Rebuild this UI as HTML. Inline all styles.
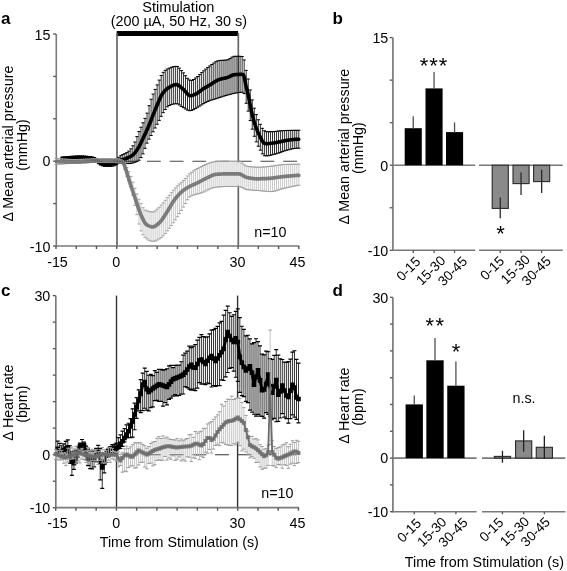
<!DOCTYPE html>
<html><head><meta charset="utf-8"><style>
html,body{margin:0;padding:0;background:#fff;}
svg{display:block;will-change:transform;}
text{font-family:"Liberation Sans", sans-serif;}
</style></head><body>
<svg width="567" height="571" viewBox="0 0 567 571">
<rect width="567" height="571" fill="#fff"/>
<text x="1.00" y="24.00" font-size="17" text-anchor="start" font-weight="bold" fill="#000" >a</text>
<text x="178.30" y="11.60" font-size="14.6" text-anchor="middle" font-weight="normal" fill="#000" >Stimulation</text>
<text x="178.80" y="25.80" font-size="14.4" text-anchor="middle" font-weight="normal" fill="#000" >(200 µA, 50 Hz, 30 s)</text>
<rect x="116.70" y="31" width="121.40" height="5" fill="#000"/>
<line x1="117.00" y1="33.00" x2="117.00" y2="246.00" stroke="#666" stroke-width="1.7" />
<line x1="238.30" y1="33.00" x2="238.30" y2="162.50" stroke="#666" stroke-width="1.7" />
<line x1="238.30" y1="185.50" x2="238.30" y2="246.00" stroke="#666" stroke-width="1.7" />
<line x1="56.30" y1="34.00" x2="56.30" y2="246.80" stroke="#7a7a7a" stroke-width="1.6" />
<line x1="53.10" y1="34.00" x2="56.00" y2="34.00" stroke="#555" stroke-width="1.3" />
<line x1="53.10" y1="76.40" x2="56.00" y2="76.40" stroke="#555" stroke-width="1.3" />
<line x1="53.10" y1="118.80" x2="56.00" y2="118.80" stroke="#555" stroke-width="1.3" />
<line x1="53.10" y1="161.20" x2="56.00" y2="161.20" stroke="#555" stroke-width="1.3" />
<line x1="53.10" y1="203.60" x2="56.00" y2="203.60" stroke="#555" stroke-width="1.3" />
<line x1="53.10" y1="246.00" x2="56.00" y2="246.00" stroke="#555" stroke-width="1.3" />
<line x1="55.50" y1="246.00" x2="299.30" y2="246.00" stroke="#7a7a7a" stroke-width="1.7" />
<line x1="56.00" y1="246.00" x2="56.00" y2="249.00" stroke="#555" stroke-width="1.4" />
<line x1="76.23" y1="246.00" x2="76.23" y2="249.00" stroke="#555" stroke-width="1.4" />
<line x1="96.47" y1="246.00" x2="96.47" y2="249.00" stroke="#555" stroke-width="1.4" />
<line x1="116.70" y1="246.00" x2="116.70" y2="249.00" stroke="#555" stroke-width="1.4" />
<line x1="136.93" y1="246.00" x2="136.93" y2="249.00" stroke="#555" stroke-width="1.4" />
<line x1="157.17" y1="246.00" x2="157.17" y2="249.00" stroke="#555" stroke-width="1.4" />
<line x1="177.40" y1="246.00" x2="177.40" y2="249.00" stroke="#555" stroke-width="1.4" />
<line x1="197.63" y1="246.00" x2="197.63" y2="249.00" stroke="#555" stroke-width="1.4" />
<line x1="217.87" y1="246.00" x2="217.87" y2="249.00" stroke="#555" stroke-width="1.4" />
<line x1="238.10" y1="246.00" x2="238.10" y2="249.00" stroke="#555" stroke-width="1.4" />
<line x1="258.33" y1="246.00" x2="258.33" y2="249.00" stroke="#555" stroke-width="1.4" />
<line x1="278.57" y1="246.00" x2="278.57" y2="249.00" stroke="#555" stroke-width="1.4" />
<line x1="298.80" y1="246.00" x2="298.80" y2="249.00" stroke="#555" stroke-width="1.4" />
<text x="50.50" y="39.90" font-size="14.3" text-anchor="end" font-weight="normal" fill="#000" >15</text>
<text x="50.50" y="166.40" font-size="14.3" text-anchor="end" font-weight="normal" fill="#000" >0</text>
<text x="50.50" y="252.20" font-size="14.3" text-anchor="end" font-weight="normal" fill="#000" >-10</text>
<text x="57.50" y="267.20" font-size="14.3" text-anchor="middle" font-weight="normal" fill="#000" >-15</text>
<text x="116.30" y="267.20" font-size="14.3" text-anchor="middle" font-weight="normal" fill="#000" >0</text>
<text x="237.50" y="267.20" font-size="14.3" text-anchor="middle" font-weight="normal" fill="#000" >30</text>
<text x="297.40" y="267.20" font-size="14.3" text-anchor="middle" font-weight="normal" fill="#000" >45</text>
<text x="254.30" y="237.40" font-size="14.3" text-anchor="start" font-weight="normal" fill="#000" >n=10</text>
<text transform="translate(12.7,143.5) rotate(-90)" font-size="14.3" text-anchor="middle">Δ Mean arterial pressure</text>
<text transform="translate(26.8,145) rotate(-90)" font-size="14.3" text-anchor="middle">(mmHg)</text>
<line x1="124.3" y1="161.20" x2="298.80" y2="161.20" stroke="#444" stroke-width="1.1" stroke-dasharray="13.8 8.9"/>
<path d="M62.07 157.19V159.41M64.09 156.96V159.56M66.12 156.75V159.69M68.14 156.55V159.77M70.16 156.39V159.80M72.19 156.23V159.78M74.21 156.06V159.72M76.23 155.92V159.66M78.26 155.83V159.62M80.28 155.80V159.60M82.30 155.86V159.61M84.33 155.99V159.64M86.35 156.18V159.68M88.37 156.41V159.74M90.40 156.65V159.82M92.42 156.96V160.18M94.44 157.43V160.80M96.47 158.48V161.92M98.49 160.28V163.75M100.51 161.36V165.03M102.54 161.90V165.89M104.56 162.19V166.38M106.58 162.18V166.40M108.61 162.09V166.40M110.63 161.93V166.38M112.65 161.44V166.14M114.68 160.65V165.68M116.70 159.21V164.48M118.72 157.31V163.50M120.75 155.70V163.51M122.77 154.58V163.54M124.79 153.66V163.57M126.82 152.62V163.59M128.84 151.14V163.59M130.86 148.85V163.39M132.89 145.82V162.94M134.91 141.99V162.28M136.93 136.58V161.42M138.96 131.57V160.25M140.98 127.20V157.56M143.00 122.77V153.87M145.03 118.39V148.34M147.05 113.15V143.14M149.07 105.71V139.15M151.10 99.24V135.50M153.12 94.06V131.77M155.14 89.40V128.01M157.17 84.90V124.26M159.19 80.11V120.38M161.21 75.52V116.32M163.24 72.33V112.67M165.26 70.35V109.53M167.28 69.06V106.83M169.31 68.13V105.48M171.33 67.32V104.67M173.35 66.70V104.07M175.38 66.35V103.74M177.40 66.54V103.87M179.42 68.18V104.95M181.45 70.57V106.42M183.47 72.90V107.63M185.49 75.71V108.94M187.52 78.30V110.11M189.54 79.93V110.69M191.56 80.44V110.43M193.59 79.50V109.61M195.61 78.00V108.46M197.63 76.47V107.22M199.66 74.63V106.10M201.68 72.67V104.91M203.70 70.86V103.63M205.73 69.13V102.42M207.75 67.47V101.44M209.77 65.93V100.67M211.80 64.52V100.00M213.82 63.05V99.38M215.84 61.75V98.75M217.87 60.84V98.08M219.89 60.48V97.41M221.91 60.32V96.74M223.94 60.21V96.10M225.96 60.06V95.48M227.98 59.72V94.91M230.01 58.58V94.34M232.03 57.16V93.80M234.05 56.32V93.33M236.08 56.30V92.95M238.10 56.30V92.61M240.12 56.30V92.36M242.15 56.56V92.30M244.17 59.93V93.58M246.19 70.35V103.27M248.22 78.97V111.11M250.24 89.93V120.60M252.26 99.93V129.16M254.29 108.20V136.25M256.31 114.62V141.87M258.33 119.75V146.22M260.36 124.30V150.17M262.38 128.32V153.83M264.40 130.76V155.71M266.43 131.65V155.89M268.45 131.70V155.75M270.47 131.70V155.29M272.50 131.69V154.78M274.52 131.53V154.27M276.54 131.26V153.69M278.57 131.02V153.07M280.59 130.85V152.38M282.61 130.68V151.61M284.64 130.55V150.88M286.66 130.48V150.29M288.68 130.42V149.74M290.71 130.37V149.22M292.73 130.33V148.77M294.75 130.31V148.44M296.78 130.30V148.27M298.80 130.30V148.20" stroke="#1a1a1a" stroke-width="0.9" fill="none"/>
<path d="M60.47 157.19h3.20M60.47 159.41h3.20M62.49 156.96h3.20M62.49 159.56h3.20M64.52 156.75h3.20M64.52 159.69h3.20M66.54 156.55h3.20M66.54 159.77h3.20M68.56 156.39h3.20M68.56 159.80h3.20M70.59 156.23h3.20M70.59 159.78h3.20M72.61 156.06h3.20M72.61 159.72h3.20M74.63 155.92h3.20M74.63 159.66h3.20M76.66 155.83h3.20M76.66 159.62h3.20M78.68 155.80h3.20M78.68 159.60h3.20M80.70 155.86h3.20M80.70 159.61h3.20M82.73 155.99h3.20M82.73 159.64h3.20M84.75 156.18h3.20M84.75 159.68h3.20M86.77 156.41h3.20M86.77 159.74h3.20M88.80 156.65h3.20M88.80 159.82h3.20M90.82 156.96h3.20M90.82 160.18h3.20M92.84 157.43h3.20M92.84 160.80h3.20M94.87 158.48h3.20M94.87 161.92h3.20M96.89 160.28h3.20M96.89 163.75h3.20M98.91 161.36h3.20M98.91 165.03h3.20M100.94 161.90h3.20M100.94 165.89h3.20M102.96 162.19h3.20M102.96 166.38h3.20M104.98 162.18h3.20M104.98 166.40h3.20M107.01 162.09h3.20M107.01 166.40h3.20M109.03 161.93h3.20M109.03 166.38h3.20M111.05 161.44h3.20M111.05 166.14h3.20M113.08 160.65h3.20M113.08 165.68h3.20M115.10 159.21h3.20M115.10 164.48h3.20M117.12 157.31h3.20M117.12 163.50h3.20M119.15 155.70h3.20M119.15 163.51h3.20M121.17 154.58h3.20M121.17 163.54h3.20M123.19 153.66h3.20M123.19 163.57h3.20M125.22 152.62h3.20M125.22 163.59h3.20M127.24 151.14h3.20M127.24 163.59h3.20M129.26 148.85h3.20M129.26 163.39h3.20M131.29 145.82h3.20M131.29 162.94h3.20M133.31 141.99h3.20M133.31 162.28h3.20M135.33 136.58h3.20M135.33 161.42h3.20M137.36 131.57h3.20M137.36 160.25h3.20M139.38 127.20h3.20M139.38 157.56h3.20M141.40 122.77h3.20M141.40 153.87h3.20M143.43 118.39h3.20M143.43 148.34h3.20M145.45 113.15h3.20M145.45 143.14h3.20M147.47 105.71h3.20M147.47 139.15h3.20M149.50 99.24h3.20M149.50 135.50h3.20M151.52 94.06h3.20M151.52 131.77h3.20M153.54 89.40h3.20M153.54 128.01h3.20M155.57 84.90h3.20M155.57 124.26h3.20M157.59 80.11h3.20M157.59 120.38h3.20M159.61 75.52h3.20M159.61 116.32h3.20M161.64 72.33h3.20M161.64 112.67h3.20M163.66 70.35h3.20M163.66 109.53h3.20M165.68 69.06h3.20M165.68 106.83h3.20M167.71 68.13h3.20M167.71 105.48h3.20M169.73 67.32h3.20M169.73 104.67h3.20M171.75 66.70h3.20M171.75 104.07h3.20M173.78 66.35h3.20M173.78 103.74h3.20M175.80 66.54h3.20M175.80 103.87h3.20M177.82 68.18h3.20M177.82 104.95h3.20M179.85 70.57h3.20M179.85 106.42h3.20M181.87 72.90h3.20M181.87 107.63h3.20M183.89 75.71h3.20M183.89 108.94h3.20M185.92 78.30h3.20M185.92 110.11h3.20M187.94 79.93h3.20M187.94 110.69h3.20M189.96 80.44h3.20M189.96 110.43h3.20M191.99 79.50h3.20M191.99 109.61h3.20M194.01 78.00h3.20M194.01 108.46h3.20M196.03 76.47h3.20M196.03 107.22h3.20M198.06 74.63h3.20M198.06 106.10h3.20M200.08 72.67h3.20M200.08 104.91h3.20M202.10 70.86h3.20M202.10 103.63h3.20M204.13 69.13h3.20M204.13 102.42h3.20M206.15 67.47h3.20M206.15 101.44h3.20M208.17 65.93h3.20M208.17 100.67h3.20M210.20 64.52h3.20M210.20 100.00h3.20M212.22 63.05h3.20M212.22 99.38h3.20M214.24 61.75h3.20M214.24 98.75h3.20M216.27 60.84h3.20M216.27 98.08h3.20M218.29 60.48h3.20M218.29 97.41h3.20M220.31 60.32h3.20M220.31 96.74h3.20M222.34 60.21h3.20M222.34 96.10h3.20M224.36 60.06h3.20M224.36 95.48h3.20M226.38 59.72h3.20M226.38 94.91h3.20M228.41 58.58h3.20M228.41 94.34h3.20M230.43 57.16h3.20M230.43 93.80h3.20M232.45 56.32h3.20M232.45 93.33h3.20M234.48 56.30h3.20M234.48 92.95h3.20M236.50 56.30h3.20M236.50 92.61h3.20M238.52 56.30h3.20M238.52 92.36h3.20M240.55 56.56h3.20M240.55 92.30h3.20M242.57 59.93h3.20M242.57 93.58h3.20M244.59 70.35h3.20M244.59 103.27h3.20M246.62 78.97h3.20M246.62 111.11h3.20M248.64 89.93h3.20M248.64 120.60h3.20M250.66 99.93h3.20M250.66 129.16h3.20M252.69 108.20h3.20M252.69 136.25h3.20M254.71 114.62h3.20M254.71 141.87h3.20M256.73 119.75h3.20M256.73 146.22h3.20M258.76 124.30h3.20M258.76 150.17h3.20M260.78 128.32h3.20M260.78 153.83h3.20M262.80 130.76h3.20M262.80 155.71h3.20M264.83 131.65h3.20M264.83 155.89h3.20M266.85 131.70h3.20M266.85 155.75h3.20M268.87 131.70h3.20M268.87 155.29h3.20M270.90 131.69h3.20M270.90 154.78h3.20M272.92 131.53h3.20M272.92 154.27h3.20M274.94 131.26h3.20M274.94 153.69h3.20M276.97 131.02h3.20M276.97 153.07h3.20M278.99 130.85h3.20M278.99 152.38h3.20M281.01 130.68h3.20M281.01 151.61h3.20M283.04 130.55h3.20M283.04 150.88h3.20M285.06 130.48h3.20M285.06 150.29h3.20M287.08 130.42h3.20M287.08 149.74h3.20M289.11 130.37h3.20M289.11 149.22h3.20M291.13 130.33h3.20M291.13 148.77h3.20M293.15 130.31h3.20M293.15 148.44h3.20M295.18 130.30h3.20M295.18 148.27h3.20M297.20 130.30h3.20M297.20 148.20h3.20" stroke="#000" stroke-width="1.0" fill="none"/>
<polyline points="62.07,158.30 62.66,158.27 63.26,158.25 63.85,158.23 64.44,158.20 65.04,158.18 65.63,158.16 66.22,158.13 66.82,158.11 67.41,158.09 68.00,158.07 68.60,158.05 69.19,158.03 69.78,158.01 70.38,157.99 70.97,157.97 71.56,157.94 72.16,157.92 72.75,157.90 73.34,157.87 73.94,157.85 74.53,157.83 75.12,157.80 75.72,157.78 76.31,157.76 76.90,157.75 77.50,157.73 78.09,157.72 78.68,157.71 79.28,157.70 79.87,157.70 80.46,157.70 81.06,157.71 81.65,157.72 82.24,157.73 82.84,157.75 83.43,157.77 84.02,157.79 84.62,157.82 85.21,157.85 85.80,157.89 86.40,157.92 86.99,157.96 87.58,158.00 88.18,158.05 88.77,158.10 89.36,158.15 89.96,158.20 90.55,158.26 91.14,158.34 91.74,158.44 92.33,158.56 92.92,158.69 93.52,158.84 94.11,159.01 94.70,159.20 95.30,159.42 95.89,159.76 96.48,160.21 97.08,160.73 97.67,161.28 98.26,161.82 98.86,162.31 99.45,162.73 100.04,163.02 100.64,163.24 101.23,163.47 101.82,163.68 102.41,163.87 103.01,164.03 103.60,164.16 104.19,164.25 104.79,164.30 105.38,164.30 105.97,164.30 106.57,164.30 107.16,164.30 107.75,164.30 108.35,164.30 108.94,164.30 109.53,164.30 110.13,164.30 110.72,164.27 111.31,164.20 111.91,164.10 112.50,163.96 113.09,163.81 113.69,163.63 114.28,163.44 114.87,163.24 115.47,162.99 116.06,162.59 116.65,162.12 117.25,161.63 117.84,161.18 118.43,160.83 119.03,160.58 119.62,160.37 120.21,160.18 120.81,160.01 121.40,159.85 121.99,159.70 122.59,159.55 123.18,159.41 123.77,159.25 124.37,159.08 124.96,158.89 125.55,158.68 126.15,158.45 126.74,158.22 127.33,157.98 127.93,157.73 128.52,157.47 129.11,157.19 129.71,156.89 130.30,156.57 130.89,156.23 131.49,155.87 132.08,155.47 132.67,155.04 133.27,154.55 133.86,153.97 134.45,153.31 135.05,152.58 135.64,151.80 136.23,150.97 136.83,150.10 137.42,149.20 138.01,148.29 138.61,147.35 139.20,146.32 139.79,145.21 140.39,144.05 140.98,142.83 141.57,141.58 142.17,140.31 142.76,139.02 143.35,137.75 143.95,136.49 144.54,135.23 145.13,133.96 145.73,132.67 146.32,131.36 146.91,130.04 147.51,128.71 148.10,127.36 148.69,125.99 149.29,124.60 149.88,123.19 150.47,121.73 151.07,120.24 151.66,118.71 152.25,117.17 152.85,115.62 153.44,114.08 154.03,112.56 154.63,111.06 155.22,109.61 155.81,108.20 156.41,106.82 157.00,105.41 157.59,103.99 158.19,102.56 158.78,101.15 159.37,99.78 159.97,98.45 160.56,97.19 161.15,96.00 161.75,94.91 162.34,93.94 162.93,93.09 163.53,92.34 164.12,91.63 164.71,90.96 165.31,90.34 165.90,89.76 166.49,89.22 167.09,88.73 167.68,88.29 168.27,87.90 168.87,87.55 169.46,87.21 170.05,86.87 170.65,86.53 171.24,86.21 171.83,85.91 172.43,85.63 173.02,85.37 173.61,85.14 174.21,84.94 174.80,84.79 175.39,84.68 175.99,84.61 176.58,84.61 177.17,84.71 177.77,84.93 178.36,85.25 178.95,85.64 179.55,86.10 180.14,86.60 180.73,87.12 181.32,87.65 181.92,88.17 182.51,88.65 183.10,89.13 183.70,89.68 184.29,90.31 184.88,90.98 185.48,91.67 186.07,92.37 186.66,93.06 187.26,93.72 187.85,94.32 188.44,94.84 189.04,95.27 189.63,95.59 190.22,95.77 190.82,95.79 191.41,95.73 192.00,95.60 192.60,95.42 193.19,95.20 193.78,94.94 194.38,94.66 194.97,94.36 195.56,94.06 196.16,93.77 196.75,93.47 197.34,93.13 197.94,92.75 198.53,92.34 199.12,91.91 199.72,91.46 200.31,91.00 200.90,90.54 201.50,90.08 202.09,89.64 202.68,89.21 203.28,88.81 203.87,88.44 204.46,88.07 205.06,87.71 205.65,87.36 206.24,87.01 206.84,86.66 207.43,86.32 208.02,85.98 208.62,85.64 209.21,85.29 209.80,84.95 210.40,84.60 210.99,84.24 211.58,83.87 212.18,83.48 212.77,83.09 213.36,82.69 213.96,82.30 214.55,81.91 215.14,81.53 215.74,81.16 216.33,80.81 216.92,80.49 217.52,80.18 218.11,79.91 218.70,79.67 219.30,79.47 219.89,79.28 220.48,79.11 221.08,78.96 221.67,78.82 222.26,78.68 222.86,78.56 223.45,78.43 224.04,78.31 224.64,78.18 225.23,78.05 225.82,77.91 226.42,77.75 227.01,77.59 227.60,77.40 228.20,77.18 228.79,76.92 229.38,76.64 229.98,76.35 230.57,76.05 231.16,75.76 231.76,75.49 232.35,75.24 232.94,75.02 233.54,74.85 234.13,74.73 234.72,74.67 235.32,74.61 235.91,74.56 236.50,74.51 237.10,74.47 237.69,74.43 238.28,74.39 238.88,74.36 239.47,74.34 240.06,74.32 240.66,74.31 241.25,74.30 241.84,74.34 242.44,74.49 243.03,74.74 243.62,75.12 244.22,76.79 244.81,79.68 245.40,83.01 246.00,85.98 246.59,88.43 247.18,90.79 247.78,93.18 248.37,95.71 248.96,98.52 249.56,101.61 250.15,104.78 250.74,107.82 251.34,110.55 251.93,113.13 252.52,115.61 253.12,117.98 253.71,120.21 254.30,122.27 254.90,124.18 255.49,125.97 256.08,127.63 256.68,129.19 257.27,130.64 257.86,131.98 258.46,133.24 259.05,134.46 259.64,135.68 260.23,136.96 260.83,138.28 261.42,139.50 262.01,140.52 262.61,141.42 263.20,142.25 263.79,142.89 264.39,143.23 264.98,143.41 265.57,143.55 266.17,143.65 266.76,143.70 267.35,143.69 267.95,143.67 268.54,143.62 269.13,143.56 269.73,143.50 270.32,143.42 270.91,143.34 271.51,143.26 272.10,143.19 272.69,143.11 273.29,143.02 273.88,142.93 274.47,142.82 275.07,142.72 275.66,142.61 276.25,142.50 276.85,142.38 277.44,142.26 278.03,142.15 278.63,142.03 279.22,141.92 279.81,141.79 280.41,141.66 281.00,141.53 281.59,141.39 282.19,141.25 282.78,141.12 283.37,140.98 283.97,140.86 284.56,140.73 285.15,140.62 285.75,140.52 286.34,140.43 286.93,140.34 287.53,140.26 288.12,140.17 288.71,140.08 289.31,140.00 289.90,139.92 290.49,139.84 291.09,139.77 291.68,139.70 292.27,139.63 292.87,139.57 293.46,139.51 294.05,139.46 294.65,139.41 295.24,139.36 295.83,139.33 296.43,139.29 297.02,139.27 297.61,139.24 298.21,139.22 298.80,139.20" fill="none" stroke="#000" stroke-width="3.6" stroke-linejoin="round" stroke-linecap="round" />
<path d="M56.00 158.29V164.48M58.02 158.51V164.32M60.05 158.71V164.16M62.07 158.89V164.00M64.09 159.06V163.85M66.12 159.20V163.71M68.14 159.32V163.58M70.16 159.41V163.46M72.19 159.47V163.34M74.21 159.50V163.24M76.23 159.49V163.14M78.26 159.46V163.05M80.28 159.40V162.95M82.30 159.31V162.85M84.33 159.22V162.76M86.35 159.12V162.68M88.37 159.03V162.61M90.40 158.94V162.56M92.42 158.86V162.52M94.44 158.81V162.50M96.47 158.78V162.50M98.49 158.75V162.50M100.51 158.72V162.51M102.54 158.69V162.51M104.56 158.67V162.52M106.58 158.64V162.53M108.61 158.63V162.54M110.63 158.61V162.56M112.65 158.60V162.57M114.68 158.60V162.60M116.70 158.75V162.70M118.72 159.18V162.98M120.75 159.68V163.33M122.77 160.38V163.89M124.79 163.37V169.33M126.82 167.60V176.20M128.84 171.74V180.92M130.86 176.41V186.55M132.89 182.19V195.29M134.91 188.34V205.31M136.93 193.93V214.65M138.96 199.21V224.02M140.98 203.65V230.85M143.00 207.76V234.83M145.03 210.06V237.31M147.05 210.90V238.93M149.07 211.52V240.27M151.10 211.90V241.14M153.12 211.97V241.39M155.14 210.89V240.98M157.17 209.08V240.10M159.19 207.25V238.94M161.21 205.10V237.65M163.24 202.80V235.81M165.26 200.29V233.44M167.28 197.71V230.84M169.31 195.21V228.28M171.33 192.70V225.60M173.35 190.22V222.76M175.38 187.89V219.82M177.40 185.82V216.79M179.42 184.00V213.60M181.45 182.29V210.32M183.47 180.50V207.03M185.49 178.42V203.60M187.52 176.03V199.77M189.54 173.89V196.94M191.56 172.30V195.78M193.59 170.88V194.98M195.61 169.61V194.39M197.63 168.46V193.89M199.66 167.40V193.39M201.68 166.44V192.78M203.70 165.51V191.98M205.73 164.56V191.00M207.75 163.66V189.95M209.77 162.86V188.96M211.80 162.24V188.13M213.82 161.85V187.58M215.84 161.67V187.29M217.87 161.52V187.05M219.89 161.40V186.84M221.91 161.30V186.67M223.94 161.23V186.56M225.96 161.20V186.50M227.98 161.20V186.50M230.01 161.20V186.50M232.03 161.20V186.50M234.05 161.20V186.50M236.08 161.20V186.50M238.10 161.20V186.50M240.12 161.58V186.72M242.15 163.02V187.59M244.17 164.78V188.66M246.19 166.04V189.48M248.22 166.41V189.78M250.24 166.66V189.99M252.26 166.88V190.15M254.29 167.04V190.28M256.31 167.15V190.41M258.33 167.20V190.55M260.36 167.18V190.72M262.38 167.08V190.93M264.40 166.92V191.16M266.43 166.71V191.36M268.45 166.49V191.51M270.47 166.26V191.59M272.50 166.04V191.52M274.52 165.75V191.17M276.54 165.42V190.61M278.57 165.11V189.95M280.59 164.83V189.27M282.61 164.64V188.67M284.64 164.54V188.19M286.66 164.45V187.74M288.68 164.37V187.29M290.71 164.31V186.86M292.73 164.25V186.44M294.75 164.22V186.03M296.78 164.20V185.64M298.80 164.20V185.26" stroke="#c4c4c4" stroke-width="0.9" fill="none"/>
<path d="M54.40 158.29h3.20M54.40 164.48h3.20M56.42 158.51h3.20M56.42 164.32h3.20M58.45 158.71h3.20M58.45 164.16h3.20M60.47 158.89h3.20M60.47 164.00h3.20M62.49 159.06h3.20M62.49 163.85h3.20M64.52 159.20h3.20M64.52 163.71h3.20M66.54 159.32h3.20M66.54 163.58h3.20M68.56 159.41h3.20M68.56 163.46h3.20M70.59 159.47h3.20M70.59 163.34h3.20M72.61 159.50h3.20M72.61 163.24h3.20M74.63 159.49h3.20M74.63 163.14h3.20M76.66 159.46h3.20M76.66 163.05h3.20M78.68 159.40h3.20M78.68 162.95h3.20M80.70 159.31h3.20M80.70 162.85h3.20M82.73 159.22h3.20M82.73 162.76h3.20M84.75 159.12h3.20M84.75 162.68h3.20M86.77 159.03h3.20M86.77 162.61h3.20M88.80 158.94h3.20M88.80 162.56h3.20M90.82 158.86h3.20M90.82 162.52h3.20M92.84 158.81h3.20M92.84 162.50h3.20M94.87 158.78h3.20M94.87 162.50h3.20M96.89 158.75h3.20M96.89 162.50h3.20M98.91 158.72h3.20M98.91 162.51h3.20M100.94 158.69h3.20M100.94 162.51h3.20M102.96 158.67h3.20M102.96 162.52h3.20M104.98 158.64h3.20M104.98 162.53h3.20M107.01 158.63h3.20M107.01 162.54h3.20M109.03 158.61h3.20M109.03 162.56h3.20M111.05 158.60h3.20M111.05 162.57h3.20M113.08 158.60h3.20M113.08 162.60h3.20M115.10 158.75h3.20M115.10 162.70h3.20M117.12 159.18h3.20M117.12 162.98h3.20M119.15 159.68h3.20M119.15 163.33h3.20M121.17 160.38h3.20M121.17 163.89h3.20M123.19 163.37h3.20M123.19 169.33h3.20M125.22 167.60h3.20M125.22 176.20h3.20M127.24 171.74h3.20M127.24 180.92h3.20M129.26 176.41h3.20M129.26 186.55h3.20M131.29 182.19h3.20M131.29 195.29h3.20M133.31 188.34h3.20M133.31 205.31h3.20M135.33 193.93h3.20M135.33 214.65h3.20M137.36 199.21h3.20M137.36 224.02h3.20M139.38 203.65h3.20M139.38 230.85h3.20M141.40 207.76h3.20M141.40 234.83h3.20M143.43 210.06h3.20M143.43 237.31h3.20M145.45 210.90h3.20M145.45 238.93h3.20M147.47 211.52h3.20M147.47 240.27h3.20M149.50 211.90h3.20M149.50 241.14h3.20M151.52 211.97h3.20M151.52 241.39h3.20M153.54 210.89h3.20M153.54 240.98h3.20M155.57 209.08h3.20M155.57 240.10h3.20M157.59 207.25h3.20M157.59 238.94h3.20M159.61 205.10h3.20M159.61 237.65h3.20M161.64 202.80h3.20M161.64 235.81h3.20M163.66 200.29h3.20M163.66 233.44h3.20M165.68 197.71h3.20M165.68 230.84h3.20M167.71 195.21h3.20M167.71 228.28h3.20M169.73 192.70h3.20M169.73 225.60h3.20M171.75 190.22h3.20M171.75 222.76h3.20M173.78 187.89h3.20M173.78 219.82h3.20M175.80 185.82h3.20M175.80 216.79h3.20M177.82 184.00h3.20M177.82 213.60h3.20M179.85 182.29h3.20M179.85 210.32h3.20M181.87 180.50h3.20M181.87 207.03h3.20M183.89 178.42h3.20M183.89 203.60h3.20M185.92 176.03h3.20M185.92 199.77h3.20M187.94 173.89h3.20M187.94 196.94h3.20M189.96 172.30h3.20M189.96 195.78h3.20M191.99 170.88h3.20M191.99 194.98h3.20M194.01 169.61h3.20M194.01 194.39h3.20M196.03 168.46h3.20M196.03 193.89h3.20M198.06 167.40h3.20M198.06 193.39h3.20M200.08 166.44h3.20M200.08 192.78h3.20M202.10 165.51h3.20M202.10 191.98h3.20M204.13 164.56h3.20M204.13 191.00h3.20M206.15 163.66h3.20M206.15 189.95h3.20M208.17 162.86h3.20M208.17 188.96h3.20M210.20 162.24h3.20M210.20 188.13h3.20M212.22 161.85h3.20M212.22 187.58h3.20M214.24 161.67h3.20M214.24 187.29h3.20M216.27 161.52h3.20M216.27 187.05h3.20M218.29 161.40h3.20M218.29 186.84h3.20M220.31 161.30h3.20M220.31 186.67h3.20M222.34 161.23h3.20M222.34 186.56h3.20M224.36 161.20h3.20M224.36 186.50h3.20M226.38 161.20h3.20M226.38 186.50h3.20M228.41 161.20h3.20M228.41 186.50h3.20M230.43 161.20h3.20M230.43 186.50h3.20M232.45 161.20h3.20M232.45 186.50h3.20M234.48 161.20h3.20M234.48 186.50h3.20M236.50 161.20h3.20M236.50 186.50h3.20M238.52 161.58h3.20M238.52 186.72h3.20M240.55 163.02h3.20M240.55 187.59h3.20M242.57 164.78h3.20M242.57 188.66h3.20M244.59 166.04h3.20M244.59 189.48h3.20M246.62 166.41h3.20M246.62 189.78h3.20M248.64 166.66h3.20M248.64 189.99h3.20M250.66 166.88h3.20M250.66 190.15h3.20M252.69 167.04h3.20M252.69 190.28h3.20M254.71 167.15h3.20M254.71 190.41h3.20M256.73 167.20h3.20M256.73 190.55h3.20M258.76 167.18h3.20M258.76 190.72h3.20M260.78 167.08h3.20M260.78 190.93h3.20M262.80 166.92h3.20M262.80 191.16h3.20M264.83 166.71h3.20M264.83 191.36h3.20M266.85 166.49h3.20M266.85 191.51h3.20M268.87 166.26h3.20M268.87 191.59h3.20M270.90 166.04h3.20M270.90 191.52h3.20M272.92 165.75h3.20M272.92 191.17h3.20M274.94 165.42h3.20M274.94 190.61h3.20M276.97 165.11h3.20M276.97 189.95h3.20M278.99 164.83h3.20M278.99 189.27h3.20M281.01 164.64h3.20M281.01 188.67h3.20M283.04 164.54h3.20M283.04 188.19h3.20M285.06 164.45h3.20M285.06 187.74h3.20M287.08 164.37h3.20M287.08 187.29h3.20M289.11 164.31h3.20M289.11 186.86h3.20M291.13 164.25h3.20M291.13 186.44h3.20M293.15 164.22h3.20M293.15 186.03h3.20M295.18 164.20h3.20M295.18 185.64h3.20M297.20 164.20h3.20M297.20 185.26h3.20" stroke="#9e9e9e" stroke-width="1.0" fill="none"/>
<polyline points="56.50,161.37 57.11,161.41 57.71,161.45 58.32,161.49 58.93,161.53 59.54,161.57 60.14,161.60 60.75,161.64 61.36,161.67 61.97,161.70 62.57,161.73 63.18,161.75 63.79,161.77 64.39,161.79 65.00,161.80 65.61,161.81 66.22,161.82 66.82,161.83 67.43,161.84 68.04,161.85 68.65,161.86 69.25,161.86 69.86,161.87 70.47,161.88 71.07,161.88 71.68,161.89 72.29,161.89 72.90,161.89 73.50,161.90 74.11,161.90 74.72,161.90 75.33,161.90 75.93,161.90 76.54,161.89 77.15,161.88 77.75,161.87 78.36,161.85 78.97,161.84 79.58,161.82 80.18,161.80 80.79,161.78 81.40,161.75 82.01,161.73 82.61,161.70 83.22,161.68 83.83,161.65 84.43,161.62 85.04,161.60 85.65,161.57 86.26,161.53 86.86,161.49 87.47,161.44 88.08,161.38 88.69,161.33 89.29,161.27 89.90,161.21 90.51,161.15 91.11,161.09 91.72,161.03 92.33,160.98 92.94,160.93 93.54,160.88 94.15,160.84 94.76,160.81 95.37,160.78 95.97,160.76 96.58,160.73 97.19,160.70 97.79,160.68 98.40,160.65 99.01,160.63 99.62,160.61 100.22,160.59 100.83,160.57 101.44,160.55 102.05,160.54 102.65,160.52 103.26,160.51 103.87,160.51 104.47,160.50 105.08,160.50 105.69,160.50 106.30,160.51 106.90,160.52 107.51,160.53 108.12,160.55 108.73,160.57 109.33,160.59 109.94,160.61 110.55,160.64 111.15,160.67 111.76,160.70 112.37,160.74 112.98,160.77 113.58,160.81 114.19,160.85 114.80,160.89 115.41,160.93 116.01,160.99 116.62,161.06 117.23,161.14 117.83,161.23 118.44,161.33 119.05,161.43 119.66,161.54 120.26,161.64 120.87,161.74 121.48,161.85 122.08,161.99 122.69,162.20 123.30,162.79 123.91,163.99 124.51,165.59 125.12,167.40 125.73,169.23 126.34,170.96 126.94,172.87 127.55,174.92 128.16,177.02 128.76,179.09 129.37,181.04 129.98,182.94 130.59,184.82 131.19,186.68 131.80,188.52 132.41,190.35 133.02,192.16 133.62,193.95 134.23,195.73 134.84,197.49 135.44,199.24 136.05,201.00 136.66,202.80 137.27,204.61 137.87,206.41 138.48,208.20 139.09,209.94 139.70,211.62 140.30,213.22 140.91,214.72 141.52,216.10 142.12,217.38 142.73,218.65 143.34,219.91 143.95,221.11 144.55,222.22 145.16,223.18 145.77,223.96 146.38,224.52 146.98,224.89 147.59,225.24 148.20,225.57 148.80,225.87 149.41,226.14 150.02,226.38 150.63,226.57 151.23,226.73 151.84,226.83 152.45,226.89 153.06,226.89 153.66,226.79 154.27,226.58 154.88,226.30 155.48,225.93 156.09,225.51 156.70,225.04 157.31,224.54 157.91,224.02 158.52,223.50 159.13,222.98 159.74,222.41 160.34,221.77 160.95,221.05 161.56,220.27 162.16,219.44 162.77,218.56 163.38,217.64 163.99,216.70 164.59,215.75 165.20,214.79 165.81,213.83 166.42,212.89 167.02,211.97 167.63,211.03 168.24,210.05 168.84,209.04 169.45,208.01 170.06,206.96 170.67,205.91 171.27,204.86 171.88,203.83 172.49,202.82 173.10,201.85 173.70,200.93 174.31,200.06 174.92,199.25 175.52,198.47 176.13,197.71 176.74,196.97 177.35,196.25 177.95,195.55 178.56,194.86 179.17,194.20 179.78,193.57 180.38,192.96 180.99,192.38 181.60,191.83 182.20,191.30 182.81,190.81 183.42,190.35 184.03,189.90 184.63,189.48 185.24,189.07 185.85,188.68 186.46,188.30 187.06,187.94 187.67,187.59 188.28,187.24 188.88,186.91 189.49,186.57 190.10,186.25 190.71,185.93 191.31,185.62 191.92,185.33 192.53,185.04 193.14,184.76 193.74,184.49 194.35,184.22 194.96,183.95 195.56,183.68 196.17,183.41 196.78,183.13 197.39,182.84 197.99,182.55 198.60,182.25 199.21,181.94 199.82,181.62 200.42,181.29 201.03,180.96 201.64,180.63 202.24,180.30 202.85,179.98 203.46,179.65 204.07,179.34 204.67,179.03 205.28,178.73 205.89,178.44 206.50,178.17 207.10,177.88 207.71,177.58 208.32,177.28 208.92,176.98 209.53,176.67 210.14,176.37 210.75,176.08 211.35,175.79 211.96,175.53 212.57,175.27 213.18,175.04 213.78,174.83 214.39,174.66 215.00,174.51 215.60,174.39 216.21,174.32 216.82,174.27 217.43,174.23 218.03,174.19 218.64,174.15 219.25,174.12 219.86,174.08 220.46,174.05 221.07,174.03 221.68,174.00 222.28,173.98 222.89,173.96 223.50,173.94 224.11,173.93 224.71,173.91 225.32,173.91 225.93,173.90 226.54,173.90 227.14,173.90 227.75,173.90 228.36,173.90 228.96,173.90 229.57,173.90 230.18,173.90 230.79,173.90 231.39,173.90 232.00,173.90 232.61,173.90 233.22,173.90 233.82,173.90 234.43,173.90 235.04,173.90 235.64,173.90 236.25,173.90 236.86,173.90 237.47,173.90 238.07,173.90 238.68,173.90 239.29,173.94 239.89,174.07 240.50,174.28 241.11,174.54 241.72,174.84 242.32,175.18 242.93,175.54 243.54,175.91 244.15,176.26 244.75,176.60 245.36,176.90 245.97,177.15 246.57,177.35 247.18,177.48 247.79,177.61 248.40,177.74 249.00,177.86 249.61,177.98 250.22,178.09 250.83,178.20 251.43,178.30 252.04,178.40 252.65,178.49 253.25,178.56 253.86,178.63 254.47,178.69 255.08,178.74 255.68,178.77 256.29,178.79 256.90,178.80 257.51,178.80 258.11,178.79 258.72,178.79 259.33,178.78 259.93,178.77 260.54,178.75 261.15,178.74 261.76,178.72 262.36,178.70 262.97,178.68 263.58,178.66 264.19,178.63 264.79,178.61 265.40,178.58 266.01,178.55 266.61,178.53 267.22,178.50 267.83,178.47 268.44,178.43 269.04,178.40 269.65,178.37 270.26,178.32 270.87,178.26 271.47,178.20 272.08,178.13 272.69,178.05 273.29,177.97 273.90,177.88 274.51,177.79 275.12,177.69 275.72,177.60 276.33,177.50 276.94,177.40 277.55,177.31 278.15,177.22 278.76,177.12 279.37,177.04 279.97,176.96 280.58,176.88 281.19,176.81 281.80,176.75 282.40,176.68 283.01,176.62 283.62,176.56 284.23,176.50 284.83,176.44 285.44,176.38 286.05,176.32 286.65,176.26 287.26,176.20 287.87,176.15 288.48,176.09 289.08,176.04 289.69,175.98 290.30,175.93 290.91,175.88 291.51,175.83 292.12,175.78 292.73,175.73 293.33,175.69 293.94,175.64 294.55,175.60 295.16,175.55 295.76,175.51 296.37,175.47 296.98,175.43 297.59,175.39 298.19,175.36 298.80,175.32" fill="none" stroke="#6c6c6c" stroke-width="3.7" stroke-linejoin="round" stroke-linecap="round" stroke-opacity="0.88"/>
<text x="332.50" y="24.00" font-size="17" text-anchor="start" font-weight="bold" fill="#000" >b</text>
<line x1="392.90" y1="37.60" x2="392.90" y2="251.10" stroke="#7a7a7a" stroke-width="1.7" />
<line x1="389.70" y1="37.60" x2="392.50" y2="37.60" stroke="#555" stroke-width="1.3" />
<line x1="389.70" y1="80.14" x2="392.50" y2="80.14" stroke="#555" stroke-width="1.3" />
<line x1="389.70" y1="122.68" x2="392.50" y2="122.68" stroke="#555" stroke-width="1.3" />
<line x1="389.70" y1="165.22" x2="392.50" y2="165.22" stroke="#555" stroke-width="1.3" />
<line x1="389.70" y1="207.76" x2="392.50" y2="207.76" stroke="#555" stroke-width="1.3" />
<line x1="389.70" y1="250.30" x2="392.50" y2="250.30" stroke="#555" stroke-width="1.3" />
<text x="388.30" y="43.00" font-size="14.3" text-anchor="end" font-weight="normal" fill="#000" >15</text>
<text x="388.30" y="170.60" font-size="14.3" text-anchor="end" font-weight="normal" fill="#000" >0</text>
<text x="388.30" y="255.50" font-size="14.3" text-anchor="end" font-weight="normal" fill="#000" >-10</text>
<line x1="392.50" y1="165.22" x2="475.20" y2="165.22" stroke="#7a7a7a" stroke-width="1.6" />
<line x1="479.00" y1="165.22" x2="562.80" y2="165.22" stroke="#7a7a7a" stroke-width="1.6" />
<line x1="392.50" y1="250.30" x2="475.20" y2="250.30" stroke="#7a7a7a" stroke-width="1.6" />
<line x1="479.00" y1="250.30" x2="562.80" y2="250.30" stroke="#7a7a7a" stroke-width="1.6" />
<line x1="413.25" y1="250.30" x2="413.25" y2="252.90" stroke="#555" stroke-width="1.3" />
<line x1="434.05" y1="250.30" x2="434.05" y2="252.90" stroke="#555" stroke-width="1.3" />
<line x1="454.55" y1="250.30" x2="454.55" y2="252.90" stroke="#555" stroke-width="1.3" />
<line x1="500.25" y1="250.30" x2="500.25" y2="252.90" stroke="#555" stroke-width="1.3" />
<line x1="521.05" y1="250.30" x2="521.05" y2="252.90" stroke="#555" stroke-width="1.3" />
<line x1="541.65" y1="250.30" x2="541.65" y2="252.90" stroke="#555" stroke-width="1.3" />
<rect x="404.70" y="128.20" width="17.1" height="37.02" fill="#000"/>
<line x1="413.25" y1="116.20" x2="413.25" y2="128.70" stroke="#505050" stroke-width="1.3" />
<rect x="425.50" y="88.40" width="17.1" height="76.82" fill="#000"/>
<line x1="434.05" y1="72.00" x2="434.05" y2="88.90" stroke="#505050" stroke-width="1.3" />
<rect x="446.00" y="132.10" width="17.1" height="33.12" fill="#000"/>
<line x1="454.55" y1="122.40" x2="454.55" y2="132.60" stroke="#505050" stroke-width="1.3" />
<rect x="492.20" y="165.22" width="16.1" height="43.18" fill="#8a8a8a" stroke="#2a2a2a" stroke-width="1.1"/>
<line x1="500.25" y1="197.40" x2="500.25" y2="218.20" stroke="#2a2a2a" stroke-width="1.3" />
<rect x="513.00" y="165.22" width="16.1" height="18.38" fill="#8a8a8a" stroke="#2a2a2a" stroke-width="1.1"/>
<line x1="521.05" y1="172.40" x2="521.05" y2="195.10" stroke="#2a2a2a" stroke-width="1.3" />
<rect x="533.60" y="165.22" width="16.1" height="16.38" fill="#8a8a8a" stroke="#2a2a2a" stroke-width="1.1"/>
<line x1="541.65" y1="169.70" x2="541.65" y2="192.90" stroke="#2a2a2a" stroke-width="1.3" />
<text x="434.00" y="73.20" font-size="22" text-anchor="middle" font-weight="normal" fill="#000" letter-spacing="1">***</text>
<text x="500.60" y="240.60" font-size="22" text-anchor="middle" font-weight="normal" fill="#000" >*</text>
<text transform="translate(421.30,262.50) rotate(-45)" font-size="13.6" text-anchor="end">0-15</text>
<text transform="translate(446.30,261.50) rotate(-45)" font-size="13.6" text-anchor="end">15-30</text>
<text transform="translate(468.00,262.20) rotate(-45)" font-size="13.6" text-anchor="end">30-45</text>
<text transform="translate(505.10,261.80) rotate(-45)" font-size="13.6" text-anchor="end">0-15</text>
<text transform="translate(530.90,260.40) rotate(-45)" font-size="13.6" text-anchor="end">15-30</text>
<text transform="translate(551.75,261.80) rotate(-45)" font-size="13.6" text-anchor="end">30-45</text>
<text transform="translate(348.7,146.6) rotate(-90)" font-size="14.3" text-anchor="middle">Δ Mean arterial pressure</text>
<text transform="translate(362.8,148.1) rotate(-90)" font-size="14.3" text-anchor="middle">(mmHg)</text>
<text x="1.00" y="296.00" font-size="17" text-anchor="start" font-weight="bold" fill="#000" >c</text>
<line x1="116.50" y1="295.60" x2="116.50" y2="507.70" stroke="#333" stroke-width="1.4" />
<line x1="237.60" y1="295.60" x2="237.60" y2="397.50" stroke="#333" stroke-width="1.4" />
<line x1="237.60" y1="441.50" x2="237.60" y2="507.70" stroke="#333" stroke-width="1.4" />
<line x1="55.80" y1="295.60" x2="55.80" y2="508.50" stroke="#7a7a7a" stroke-width="1.7" />
<line x1="52.80" y1="295.60" x2="55.70" y2="295.60" stroke="#555" stroke-width="1.3" />
<line x1="52.80" y1="322.11" x2="55.70" y2="322.11" stroke="#555" stroke-width="1.3" />
<line x1="52.80" y1="348.62" x2="55.70" y2="348.62" stroke="#555" stroke-width="1.3" />
<line x1="52.80" y1="375.14" x2="55.70" y2="375.14" stroke="#555" stroke-width="1.3" />
<line x1="52.80" y1="401.65" x2="55.70" y2="401.65" stroke="#555" stroke-width="1.3" />
<line x1="52.80" y1="428.16" x2="55.70" y2="428.16" stroke="#555" stroke-width="1.3" />
<line x1="52.80" y1="454.68" x2="55.70" y2="454.68" stroke="#555" stroke-width="1.3" />
<line x1="52.80" y1="481.19" x2="55.70" y2="481.19" stroke="#555" stroke-width="1.3" />
<line x1="52.80" y1="507.70" x2="55.70" y2="507.70" stroke="#555" stroke-width="1.3" />
<line x1="55.20" y1="507.70" x2="299.00" y2="507.70" stroke="#7a7a7a" stroke-width="1.7" />
<line x1="55.70" y1="507.70" x2="55.70" y2="510.70" stroke="#555" stroke-width="1.4" />
<line x1="75.93" y1="507.70" x2="75.93" y2="510.70" stroke="#555" stroke-width="1.4" />
<line x1="96.17" y1="507.70" x2="96.17" y2="510.70" stroke="#555" stroke-width="1.4" />
<line x1="116.40" y1="507.70" x2="116.40" y2="510.70" stroke="#555" stroke-width="1.4" />
<line x1="136.63" y1="507.70" x2="136.63" y2="510.70" stroke="#555" stroke-width="1.4" />
<line x1="156.87" y1="507.70" x2="156.87" y2="510.70" stroke="#555" stroke-width="1.4" />
<line x1="177.10" y1="507.70" x2="177.10" y2="510.70" stroke="#555" stroke-width="1.4" />
<line x1="197.33" y1="507.70" x2="197.33" y2="510.70" stroke="#555" stroke-width="1.4" />
<line x1="217.57" y1="507.70" x2="217.57" y2="510.70" stroke="#555" stroke-width="1.4" />
<line x1="237.80" y1="507.70" x2="237.80" y2="510.70" stroke="#555" stroke-width="1.4" />
<line x1="258.03" y1="507.70" x2="258.03" y2="510.70" stroke="#555" stroke-width="1.4" />
<line x1="278.27" y1="507.70" x2="278.27" y2="510.70" stroke="#555" stroke-width="1.4" />
<line x1="298.50" y1="507.70" x2="298.50" y2="510.70" stroke="#555" stroke-width="1.4" />
<text x="50.30" y="301.00" font-size="14.3" text-anchor="end" font-weight="normal" fill="#000" >30</text>
<text x="50.30" y="459.80" font-size="14.3" text-anchor="end" font-weight="normal" fill="#000" >0</text>
<text x="50.30" y="512.60" font-size="14.3" text-anchor="end" font-weight="normal" fill="#000" >-10</text>
<text x="57.50" y="527.90" font-size="14.3" text-anchor="middle" font-weight="normal" fill="#000" >-15</text>
<text x="116.30" y="527.90" font-size="14.3" text-anchor="middle" font-weight="normal" fill="#000" >0</text>
<text x="237.50" y="527.90" font-size="14.3" text-anchor="middle" font-weight="normal" fill="#000" >30</text>
<text x="297.40" y="527.90" font-size="14.3" text-anchor="middle" font-weight="normal" fill="#000" >45</text>
<text x="261.30" y="498.10" font-size="14.3" text-anchor="start" font-weight="normal" fill="#000" >n=10</text>
<text x="179.30" y="547.10" font-size="14.3" text-anchor="middle" font-weight="normal" fill="#000" >Time from Stimulation (s)</text>
<text transform="translate(12.7,402.6) rotate(-90)" font-size="14.3" text-anchor="middle">Δ Heart rate</text>
<text transform="translate(26.8,404.2) rotate(-90)" font-size="14.3" text-anchor="middle">(bpm)</text>
<line x1="124.3" y1="454.68" x2="298.50" y2="454.68" stroke="#333" stroke-width="1.1" stroke-dasharray="13.8 8.9"/>
<path d="M57.72 441.20V452.96M59.75 443.42V455.66M61.77 445.74V455.56M63.79 443.79V455.05M65.82 441.30V453.64M67.84 439.80V452.12M69.86 445.74V463.23M71.89 451.67V475.42M73.91 451.05V469.34M75.93 450.03V463.20M77.96 446.58V457.13M79.98 443.04V451.06M82.00 439.49V450.50M84.03 442.05V450.12M86.05 446.10V459.57M88.07 449.07V465.61M90.10 451.10V468.64M92.12 451.44V468.88M94.14 450.43V466.86M96.17 448.33V461.59M98.19 445.43V453.93M100.21 448.32V479.95M102.24 453.17V488.30M104.26 453.74V472.81M106.28 451.66V462.47M108.31 449.19V456.91M110.33 446.73V454.00M112.35 444.64V452.49M114.38 444.28V452.79M116.40 443.18V453.94M118.42 437.58V448.82M120.45 434.88V448.38M122.47 431.06V446.28M124.49 428.55V441.90M126.52 424.95V437.85M128.54 423.26V437.58M130.56 418.54V437.63M132.59 408.80V437.21M134.61 403.14V429.76M136.63 397.61V418.30M138.66 389.82V410.89M140.68 379.68V412.60M142.70 373.21V410.68M144.73 368.15V408.27M146.75 371.28V410.15M148.77 375.27V410.86M150.80 374.30V407.55M152.82 375.55V406.84M154.84 370.69V400.58M156.87 372.28V400.45M158.89 369.46V401.30M160.91 369.23V401.34M162.94 370.27V406.11M164.96 369.71V402.53M166.98 368.76V404.90M169.01 365.82V399.31M171.03 365.42V398.17M173.05 367.59V396.14M175.08 365.40V394.56M177.10 365.00V395.85M179.12 365.04V395.52M181.15 361.73V394.03M183.17 355.18V393.99M185.19 353.07V386.67M187.22 351.09V387.60M189.24 346.12V389.17M191.26 347.68V390.05M193.29 346.19V389.14M195.31 344.51V390.68M197.33 340.17V388.21M199.36 337.34V382.58M201.38 334.59V384.14M203.40 336.70V383.88M205.43 337.10V384.71M207.45 336.85V383.03M209.47 333.86V383.73M211.50 330.09V387.01M213.52 329.70V385.49M215.54 328.38V386.51M217.57 326.43V385.58M219.59 322.93V385.70M221.61 321.33V379.79M223.64 315.11V380.50M225.66 310.36V376.82M227.68 306.11V372.48M229.71 312.76V368.28M231.73 316.31V367.57M233.75 314.75V371.08M235.78 311.35V377.26M237.80 308.96V381.45M239.82 317.59V392.31M241.85 326.27V395.70M243.87 329.30V396.68M245.89 335.85V401.42M247.92 335.23V402.54M249.94 338.82V410.22M251.96 343.82V412.27M253.99 342.55V414.26M256.01 338.74V416.09M258.03 341.68V414.42M260.06 345.93V416.06M262.08 354.22V416.28M264.10 354.79V418.05M266.13 351.15V412.64M268.15 351.68V414.28M270.17 358.58V416.16M272.20 359.44V419.76M274.22 355.47V418.45M276.24 349.60V421.74M278.27 355.18V421.33M280.29 358.90V418.02M282.31 359.51V413.70M284.34 362.05V417.04M286.36 362.50V418.72M288.38 361.59V423.04M290.41 359.15V418.53M292.43 352.07V414.91M294.45 350.76V417.04M296.48 359.35V419.42M298.50 363.16V422.79" stroke="#1a1a1a" stroke-width="0.9" fill="none"/>
<path d="M55.72 441.20h4.00M55.72 452.96h4.00M57.75 443.42h4.00M57.75 455.66h4.00M59.77 445.74h4.00M59.77 455.56h4.00M61.79 443.79h4.00M61.79 455.05h4.00M63.82 441.30h4.00M63.82 453.64h4.00M65.84 439.80h4.00M65.84 452.12h4.00M67.86 445.74h4.00M67.86 463.23h4.00M69.89 451.67h4.00M69.89 475.42h4.00M71.91 451.05h4.00M71.91 469.34h4.00M73.93 450.03h4.00M73.93 463.20h4.00M75.96 446.58h4.00M75.96 457.13h4.00M77.98 443.04h4.00M77.98 451.06h4.00M80.00 439.49h4.00M80.00 450.50h4.00M82.03 442.05h4.00M82.03 450.12h4.00M84.05 446.10h4.00M84.05 459.57h4.00M86.07 449.07h4.00M86.07 465.61h4.00M88.10 451.10h4.00M88.10 468.64h4.00M90.12 451.44h4.00M90.12 468.88h4.00M92.14 450.43h4.00M92.14 466.86h4.00M94.17 448.33h4.00M94.17 461.59h4.00M96.19 445.43h4.00M96.19 453.93h4.00M98.21 448.32h4.00M98.21 479.95h4.00M100.24 453.17h4.00M100.24 488.30h4.00M102.26 453.74h4.00M102.26 472.81h4.00M104.28 451.66h4.00M104.28 462.47h4.00M106.31 449.19h4.00M106.31 456.91h4.00M108.33 446.73h4.00M108.33 454.00h4.00M110.35 444.64h4.00M110.35 452.49h4.00M112.38 444.28h4.00M112.38 452.79h4.00M114.40 443.18h4.00M114.40 453.94h4.00M116.42 437.58h4.00M116.42 448.82h4.00M118.45 434.88h4.00M118.45 448.38h4.00M120.47 431.06h4.00M120.47 446.28h4.00M122.49 428.55h4.00M122.49 441.90h4.00M124.52 424.95h4.00M124.52 437.85h4.00M126.54 423.26h4.00M126.54 437.58h4.00M128.56 418.54h4.00M128.56 437.63h4.00M130.59 408.80h4.00M130.59 437.21h4.00M132.61 403.14h4.00M132.61 429.76h4.00M134.63 397.61h4.00M134.63 418.30h4.00M136.66 389.82h4.00M136.66 410.89h4.00M138.68 379.68h4.00M138.68 412.60h4.00M140.70 373.21h4.00M140.70 410.68h4.00M142.73 368.15h4.00M142.73 408.27h4.00M144.75 371.28h4.00M144.75 410.15h4.00M146.77 375.27h4.00M146.77 410.86h4.00M148.80 374.30h4.00M148.80 407.55h4.00M150.82 375.55h4.00M150.82 406.84h4.00M152.84 370.69h4.00M152.84 400.58h4.00M154.87 372.28h4.00M154.87 400.45h4.00M156.89 369.46h4.00M156.89 401.30h4.00M158.91 369.23h4.00M158.91 401.34h4.00M160.94 370.27h4.00M160.94 406.11h4.00M162.96 369.71h4.00M162.96 402.53h4.00M164.98 368.76h4.00M164.98 404.90h4.00M167.01 365.82h4.00M167.01 399.31h4.00M169.03 365.42h4.00M169.03 398.17h4.00M171.05 367.59h4.00M171.05 396.14h4.00M173.08 365.40h4.00M173.08 394.56h4.00M175.10 365.00h4.00M175.10 395.85h4.00M177.12 365.04h4.00M177.12 395.52h4.00M179.15 361.73h4.00M179.15 394.03h4.00M181.17 355.18h4.00M181.17 393.99h4.00M183.19 353.07h4.00M183.19 386.67h4.00M185.22 351.09h4.00M185.22 387.60h4.00M187.24 346.12h4.00M187.24 389.17h4.00M189.26 347.68h4.00M189.26 390.05h4.00M191.29 346.19h4.00M191.29 389.14h4.00M193.31 344.51h4.00M193.31 390.68h4.00M195.33 340.17h4.00M195.33 388.21h4.00M197.36 337.34h4.00M197.36 382.58h4.00M199.38 334.59h4.00M199.38 384.14h4.00M201.40 336.70h4.00M201.40 383.88h4.00M203.43 337.10h4.00M203.43 384.71h4.00M205.45 336.85h4.00M205.45 383.03h4.00M207.47 333.86h4.00M207.47 383.73h4.00M209.50 330.09h4.00M209.50 387.01h4.00M211.52 329.70h4.00M211.52 385.49h4.00M213.54 328.38h4.00M213.54 386.51h4.00M215.57 326.43h4.00M215.57 385.58h4.00M217.59 322.93h4.00M217.59 385.70h4.00M219.61 321.33h4.00M219.61 379.79h4.00M221.64 315.11h4.00M221.64 380.50h4.00M223.66 310.36h4.00M223.66 376.82h4.00M225.68 306.11h4.00M225.68 372.48h4.00M227.71 312.76h4.00M227.71 368.28h4.00M229.73 316.31h4.00M229.73 367.57h4.00M231.75 314.75h4.00M231.75 371.08h4.00M233.78 311.35h4.00M233.78 377.26h4.00M235.80 308.96h4.00M235.80 381.45h4.00M237.82 317.59h4.00M237.82 392.31h4.00M239.85 326.27h4.00M239.85 395.70h4.00M241.87 329.30h4.00M241.87 396.68h4.00M243.89 335.85h4.00M243.89 401.42h4.00M245.92 335.23h4.00M245.92 402.54h4.00M247.94 338.82h4.00M247.94 410.22h4.00M249.96 343.82h4.00M249.96 412.27h4.00M251.99 342.55h4.00M251.99 414.26h4.00M254.01 338.74h4.00M254.01 416.09h4.00M256.03 341.68h4.00M256.03 414.42h4.00M258.06 345.93h4.00M258.06 416.06h4.00M260.08 354.22h4.00M260.08 416.28h4.00M262.10 354.79h4.00M262.10 418.05h4.00M264.13 351.15h4.00M264.13 412.64h4.00M266.15 351.68h4.00M266.15 414.28h4.00M268.17 358.58h4.00M268.17 416.16h4.00M270.20 359.44h4.00M270.20 419.76h4.00M272.22 355.47h4.00M272.22 418.45h4.00M274.24 349.60h4.00M274.24 421.74h4.00M276.27 355.18h4.00M276.27 421.33h4.00M278.29 358.90h4.00M278.29 418.02h4.00M280.31 359.51h4.00M280.31 413.70h4.00M282.34 362.05h4.00M282.34 417.04h4.00M284.36 362.50h4.00M284.36 418.72h4.00M286.38 361.59h4.00M286.38 423.04h4.00M288.41 359.15h4.00M288.41 418.53h4.00M290.43 352.07h4.00M290.43 414.91h4.00M292.45 350.76h4.00M292.45 417.04h4.00M294.48 359.35h4.00M294.48 419.42h4.00M296.50 363.16h4.00M296.50 422.79h4.00" stroke="#000" stroke-width="1.2" fill="none"/>
<polyline points="57.72,448.71 59.75,450.28 61.77,450.09 63.79,449.75 65.82,448.60 67.84,447.30 69.86,454.82 71.89,461.81 73.91,463.15 75.93,458.70 77.96,451.93 79.98,446.07 82.00,445.36 84.03,445.27 86.05,454.45 88.07,458.35 90.10,459.75 92.12,459.46 94.14,458.06 96.17,455.21 98.19,451.05 100.21,461.77 102.24,467.47 104.26,462.72 106.28,455.76 108.31,450.99 110.33,448.63 112.35,447.97 114.38,447.86 116.40,448.45 118.42,446.58 120.45,443.89 122.47,441.21 124.49,437.93 126.52,434.58 128.54,431.20 130.56,426.31 132.59,421.42 134.61,414.51 136.63,406.88 138.66,400.70 140.68,393.58 142.70,384.61 144.73,382.16 146.75,389.17 148.77,391.98 150.80,390.28 152.82,388.57 154.84,387.10 156.87,385.74 158.89,384.38 160.91,384.71 162.94,385.47 164.96,386.23 166.98,386.99 169.01,384.34 171.03,381.65 173.05,379.20 175.08,378.38 177.10,377.55 179.12,376.73 181.15,375.91 183.17,374.66 185.19,372.61 187.22,369.57 189.24,366.54 191.26,364.79 193.29,367.34 195.31,367.70 197.33,364.00 199.36,360.31 201.38,359.58 203.40,362.03 205.43,363.86 207.45,360.82 209.47,357.79 211.50,356.10 213.52,358.55 215.54,360.99 217.57,358.47 219.59,355.22 221.61,352.24 223.64,349.06 225.66,339.56 227.68,331.97 229.71,336.01 231.73,340.06 233.75,342.01 235.78,338.39 237.80,342.07 239.82,356.90 241.85,362.82 243.87,367.01 245.89,370.43 247.92,368.59 249.94,366.35 251.96,372.68 253.99,384.82 256.01,376.86 258.03,370.35 260.06,380.39 262.08,390.14 264.10,389.47 266.13,384.00 268.15,374.57 270.17,386.38 272.20,392.82 274.22,386.47 276.24,380.11 278.27,394.61 280.29,391.42 282.31,385.43 284.34,390.49 286.36,395.55 288.38,396.85 290.41,390.78 292.43,384.71 294.45,387.64 296.48,397.35 298.50,398.99" fill="none" stroke="#000" stroke-width="3.0" stroke-linejoin="round" stroke-linecap="round" />
<path d="M55.42 446.41h4.6v4.6h-4.6zM57.45 447.98h4.6v4.6h-4.6zM59.47 447.79h4.6v4.6h-4.6zM61.49 447.45h4.6v4.6h-4.6zM63.52 446.30h4.6v4.6h-4.6zM65.54 445.00h4.6v4.6h-4.6zM67.56 452.52h4.6v4.6h-4.6zM69.59 459.51h4.6v4.6h-4.6zM71.61 460.85h4.6v4.6h-4.6zM73.63 456.40h4.6v4.6h-4.6zM75.66 449.63h4.6v4.6h-4.6zM77.68 443.77h4.6v4.6h-4.6zM79.70 443.06h4.6v4.6h-4.6zM81.73 442.97h4.6v4.6h-4.6zM83.75 452.15h4.6v4.6h-4.6zM85.77 456.05h4.6v4.6h-4.6zM87.80 457.45h4.6v4.6h-4.6zM89.82 457.16h4.6v4.6h-4.6zM91.84 455.76h4.6v4.6h-4.6zM93.87 452.91h4.6v4.6h-4.6zM95.89 448.75h4.6v4.6h-4.6zM97.91 459.47h4.6v4.6h-4.6zM99.94 465.17h4.6v4.6h-4.6zM101.96 460.42h4.6v4.6h-4.6zM103.98 453.46h4.6v4.6h-4.6zM106.01 448.69h4.6v4.6h-4.6zM108.03 446.33h4.6v4.6h-4.6zM110.05 445.67h4.6v4.6h-4.6zM112.08 445.56h4.6v4.6h-4.6zM114.10 446.15h4.6v4.6h-4.6zM116.12 444.28h4.6v4.6h-4.6zM118.15 441.59h4.6v4.6h-4.6zM120.17 438.91h4.6v4.6h-4.6zM122.19 435.63h4.6v4.6h-4.6zM124.22 432.28h4.6v4.6h-4.6zM126.24 428.90h4.6v4.6h-4.6zM128.26 424.01h4.6v4.6h-4.6zM130.29 419.12h4.6v4.6h-4.6zM132.31 412.21h4.6v4.6h-4.6zM134.33 404.58h4.6v4.6h-4.6zM136.36 398.40h4.6v4.6h-4.6zM138.38 391.28h4.6v4.6h-4.6zM140.40 382.31h4.6v4.6h-4.6zM142.43 379.86h4.6v4.6h-4.6zM144.45 386.87h4.6v4.6h-4.6zM146.47 389.68h4.6v4.6h-4.6zM148.50 387.98h4.6v4.6h-4.6zM150.52 386.27h4.6v4.6h-4.6zM152.54 384.80h4.6v4.6h-4.6zM154.57 383.44h4.6v4.6h-4.6zM156.59 382.08h4.6v4.6h-4.6zM158.61 382.41h4.6v4.6h-4.6zM160.64 383.17h4.6v4.6h-4.6zM162.66 383.93h4.6v4.6h-4.6zM164.68 384.69h4.6v4.6h-4.6zM166.71 382.04h4.6v4.6h-4.6zM168.73 379.35h4.6v4.6h-4.6zM170.75 376.90h4.6v4.6h-4.6zM172.78 376.08h4.6v4.6h-4.6zM174.80 375.25h4.6v4.6h-4.6zM176.82 374.43h4.6v4.6h-4.6zM178.85 373.61h4.6v4.6h-4.6zM180.87 372.36h4.6v4.6h-4.6zM182.89 370.31h4.6v4.6h-4.6zM184.92 367.27h4.6v4.6h-4.6zM186.94 364.24h4.6v4.6h-4.6zM188.96 362.49h4.6v4.6h-4.6zM190.99 365.04h4.6v4.6h-4.6zM193.01 365.40h4.6v4.6h-4.6zM195.03 361.70h4.6v4.6h-4.6zM197.06 358.01h4.6v4.6h-4.6zM199.08 357.28h4.6v4.6h-4.6zM201.10 359.73h4.6v4.6h-4.6zM203.13 361.56h4.6v4.6h-4.6zM205.15 358.52h4.6v4.6h-4.6zM207.17 355.49h4.6v4.6h-4.6zM209.20 353.80h4.6v4.6h-4.6zM211.22 356.25h4.6v4.6h-4.6zM213.24 358.69h4.6v4.6h-4.6zM215.27 356.17h4.6v4.6h-4.6zM217.29 352.92h4.6v4.6h-4.6zM219.31 349.94h4.6v4.6h-4.6zM221.34 346.76h4.6v4.6h-4.6zM223.36 337.26h4.6v4.6h-4.6zM225.38 329.67h4.6v4.6h-4.6zM227.41 333.71h4.6v4.6h-4.6zM229.43 337.76h4.6v4.6h-4.6zM231.45 339.71h4.6v4.6h-4.6zM233.48 336.09h4.6v4.6h-4.6zM235.50 339.77h4.6v4.6h-4.6zM237.52 354.60h4.6v4.6h-4.6zM239.55 360.52h4.6v4.6h-4.6zM241.57 364.71h4.6v4.6h-4.6zM243.59 368.13h4.6v4.6h-4.6zM245.62 366.29h4.6v4.6h-4.6zM247.64 364.05h4.6v4.6h-4.6zM249.66 370.38h4.6v4.6h-4.6zM251.69 382.52h4.6v4.6h-4.6zM253.71 374.56h4.6v4.6h-4.6zM255.73 368.05h4.6v4.6h-4.6zM257.76 378.09h4.6v4.6h-4.6zM259.78 387.84h4.6v4.6h-4.6zM261.80 387.17h4.6v4.6h-4.6zM263.83 381.70h4.6v4.6h-4.6zM265.85 372.27h4.6v4.6h-4.6zM267.87 384.08h4.6v4.6h-4.6zM269.90 390.52h4.6v4.6h-4.6zM271.92 384.17h4.6v4.6h-4.6zM273.94 377.81h4.6v4.6h-4.6zM275.97 392.31h4.6v4.6h-4.6zM277.99 389.12h4.6v4.6h-4.6zM280.01 383.13h4.6v4.6h-4.6zM282.04 388.19h4.6v4.6h-4.6zM284.06 393.25h4.6v4.6h-4.6zM286.08 394.55h4.6v4.6h-4.6zM288.11 388.48h4.6v4.6h-4.6zM290.13 382.41h4.6v4.6h-4.6zM292.15 385.34h4.6v4.6h-4.6zM294.18 395.05h4.6v4.6h-4.6zM296.20 396.69h4.6v4.6h-4.6z" fill="#000" />
<path d="M55.70 449.30V459.38M57.72 450.63V459.86M59.75 448.58V459.96M61.77 450.35V459.85M63.79 453.09V463.24M65.82 453.21V465.58M67.84 448.19V462.05M69.86 448.27V459.45M71.89 446.93V458.97M73.91 448.86V458.72M75.93 446.27V463.76M77.96 449.04V461.24M79.98 450.39V463.02M82.00 448.37V459.02M84.03 450.96V459.56M86.05 450.65V462.47M88.07 447.45V464.30M90.10 450.86V461.57M92.12 449.27V460.52M94.14 450.40V465.93M96.17 449.47V462.40M98.19 451.52V464.49M100.21 449.60V460.38M102.24 447.49V463.00M104.26 449.42V463.27M106.28 450.68V462.36M108.31 447.84V460.15M110.33 447.33V462.36M112.35 448.33V458.84M114.38 451.62V459.88M116.40 452.16V461.11M118.42 451.85V466.84M120.45 454.18V465.48M122.47 452.77V472.19M124.49 448.89V471.18M126.52 446.10V471.70M128.54 448.40V467.57M130.56 446.82V466.07M132.59 444.63V465.77M134.61 442.80V468.14M136.63 442.87V467.78M138.66 442.66V464.99M140.68 442.83V462.50M142.70 444.35V462.18M144.73 445.75V467.01M146.75 448.16V468.79M148.77 446.52V463.36M150.80 443.45V463.22M152.82 442.02V465.77M154.84 441.52V464.73M156.87 438.29V460.46M158.89 436.61V459.91M160.91 438.48V460.48M162.94 435.92V460.14M164.96 438.10V456.48M166.98 437.05V460.07M169.01 438.91V458.01M171.03 439.56V459.20M173.05 439.65V455.86M175.08 440.06V460.43M177.10 438.58V459.31M179.12 440.77V457.03M181.15 439.07V460.89M183.17 440.72V459.83M185.19 439.24V461.11M187.22 438.51V456.77M189.24 434.76V457.26M191.26 434.39V461.36M193.29 437.31V457.93M195.31 431.51V458.40M197.33 433.19V455.44M199.36 431.85V459.70M201.38 431.20V456.19M203.40 428.62V457.49M205.43 428.26V452.16M207.45 424.00V453.27M209.47 422.86V449.44M211.50 421.60V453.04M213.52 419.29V449.09M215.54 416.96V445.50M217.57 414.81V444.22M219.59 411.74V445.66M221.61 404.23V442.35M223.64 406.00V443.00M225.66 401.56V444.52M227.68 399.14V444.89M229.71 399.44V445.40M231.73 396.08V445.46M233.75 399.53V443.69M235.78 398.61V444.88M237.80 397.66V442.79M239.82 398.25V445.62M241.85 402.48V450.89M243.87 407.63V449.20M245.89 415.52V451.84M247.92 431.04V454.17M249.94 436.46V457.81M251.96 436.38V456.54M253.99 439.02V458.31M256.01 438.41V462.48M258.03 439.91V462.28M260.06 444.63V466.97M262.08 446.51V469.25M264.10 449.16V468.20M266.13 448.40V468.05M268.15 445.29V465.37M270.17 330.06V444.53M272.20 440.75V465.60M274.22 446.51V466.04M276.24 448.62V467.65M278.27 447.59V464.63M280.29 446.91V464.94M282.31 444.98V468.22M284.34 444.23V464.67M286.36 442.78V465.33M288.38 446.72V468.29M290.41 444.22V464.14M292.43 440.78V463.16M294.45 442.43V465.68M296.48 440.27V463.46M298.50 441.26V462.67" stroke="#bdbdbd" stroke-width="0.9" fill="none"/>
<path d="M54.00 449.30h3.40M54.00 459.38h3.40M56.02 450.63h3.40M56.02 459.86h3.40M58.05 448.58h3.40M58.05 459.96h3.40M60.07 450.35h3.40M60.07 459.85h3.40M62.09 453.09h3.40M62.09 463.24h3.40M64.12 453.21h3.40M64.12 465.58h3.40M66.14 448.19h3.40M66.14 462.05h3.40M68.16 448.27h3.40M68.16 459.45h3.40M70.19 446.93h3.40M70.19 458.97h3.40M72.21 448.86h3.40M72.21 458.72h3.40M74.23 446.27h3.40M74.23 463.76h3.40M76.26 449.04h3.40M76.26 461.24h3.40M78.28 450.39h3.40M78.28 463.02h3.40M80.30 448.37h3.40M80.30 459.02h3.40M82.33 450.96h3.40M82.33 459.56h3.40M84.35 450.65h3.40M84.35 462.47h3.40M86.37 447.45h3.40M86.37 464.30h3.40M88.40 450.86h3.40M88.40 461.57h3.40M90.42 449.27h3.40M90.42 460.52h3.40M92.44 450.40h3.40M92.44 465.93h3.40M94.47 449.47h3.40M94.47 462.40h3.40M96.49 451.52h3.40M96.49 464.49h3.40M98.51 449.60h3.40M98.51 460.38h3.40M100.54 447.49h3.40M100.54 463.00h3.40M102.56 449.42h3.40M102.56 463.27h3.40M104.58 450.68h3.40M104.58 462.36h3.40M106.61 447.84h3.40M106.61 460.15h3.40M108.63 447.33h3.40M108.63 462.36h3.40M110.65 448.33h3.40M110.65 458.84h3.40M112.68 451.62h3.40M112.68 459.88h3.40M114.70 452.16h3.40M114.70 461.11h3.40M116.72 451.85h3.40M116.72 466.84h3.40M118.75 454.18h3.40M118.75 465.48h3.40M120.77 452.77h3.40M120.77 472.19h3.40M122.79 448.89h3.40M122.79 471.18h3.40M124.82 446.10h3.40M124.82 471.70h3.40M126.84 448.40h3.40M126.84 467.57h3.40M128.86 446.82h3.40M128.86 466.07h3.40M130.89 444.63h3.40M130.89 465.77h3.40M132.91 442.80h3.40M132.91 468.14h3.40M134.93 442.87h3.40M134.93 467.78h3.40M136.96 442.66h3.40M136.96 464.99h3.40M138.98 442.83h3.40M138.98 462.50h3.40M141.00 444.35h3.40M141.00 462.18h3.40M143.03 445.75h3.40M143.03 467.01h3.40M145.05 448.16h3.40M145.05 468.79h3.40M147.07 446.52h3.40M147.07 463.36h3.40M149.10 443.45h3.40M149.10 463.22h3.40M151.12 442.02h3.40M151.12 465.77h3.40M153.14 441.52h3.40M153.14 464.73h3.40M155.17 438.29h3.40M155.17 460.46h3.40M157.19 436.61h3.40M157.19 459.91h3.40M159.21 438.48h3.40M159.21 460.48h3.40M161.24 435.92h3.40M161.24 460.14h3.40M163.26 438.10h3.40M163.26 456.48h3.40M165.28 437.05h3.40M165.28 460.07h3.40M167.31 438.91h3.40M167.31 458.01h3.40M169.33 439.56h3.40M169.33 459.20h3.40M171.35 439.65h3.40M171.35 455.86h3.40M173.38 440.06h3.40M173.38 460.43h3.40M175.40 438.58h3.40M175.40 459.31h3.40M177.42 440.77h3.40M177.42 457.03h3.40M179.45 439.07h3.40M179.45 460.89h3.40M181.47 440.72h3.40M181.47 459.83h3.40M183.49 439.24h3.40M183.49 461.11h3.40M185.52 438.51h3.40M185.52 456.77h3.40M187.54 434.76h3.40M187.54 457.26h3.40M189.56 434.39h3.40M189.56 461.36h3.40M191.59 437.31h3.40M191.59 457.93h3.40M193.61 431.51h3.40M193.61 458.40h3.40M195.63 433.19h3.40M195.63 455.44h3.40M197.66 431.85h3.40M197.66 459.70h3.40M199.68 431.20h3.40M199.68 456.19h3.40M201.70 428.62h3.40M201.70 457.49h3.40M203.73 428.26h3.40M203.73 452.16h3.40M205.75 424.00h3.40M205.75 453.27h3.40M207.77 422.86h3.40M207.77 449.44h3.40M209.80 421.60h3.40M209.80 453.04h3.40M211.82 419.29h3.40M211.82 449.09h3.40M213.84 416.96h3.40M213.84 445.50h3.40M215.87 414.81h3.40M215.87 444.22h3.40M217.89 411.74h3.40M217.89 445.66h3.40M219.91 404.23h3.40M219.91 442.35h3.40M221.94 406.00h3.40M221.94 443.00h3.40M223.96 401.56h3.40M223.96 444.52h3.40M225.98 399.14h3.40M225.98 444.89h3.40M228.01 399.44h3.40M228.01 445.40h3.40M230.03 396.08h3.40M230.03 445.46h3.40M232.05 399.53h3.40M232.05 443.69h3.40M234.08 398.61h3.40M234.08 444.88h3.40M236.10 397.66h3.40M236.10 442.79h3.40M238.12 398.25h3.40M238.12 445.62h3.40M240.15 402.48h3.40M240.15 450.89h3.40M242.17 407.63h3.40M242.17 449.20h3.40M244.19 415.52h3.40M244.19 451.84h3.40M246.22 431.04h3.40M246.22 454.17h3.40M248.24 436.46h3.40M248.24 457.81h3.40M250.26 436.38h3.40M250.26 456.54h3.40M252.29 439.02h3.40M252.29 458.31h3.40M254.31 438.41h3.40M254.31 462.48h3.40M256.33 439.91h3.40M256.33 462.28h3.40M258.36 444.63h3.40M258.36 466.97h3.40M260.38 446.51h3.40M260.38 469.25h3.40M262.40 449.16h3.40M262.40 468.20h3.40M264.43 448.40h3.40M264.43 468.05h3.40M266.45 445.29h3.40M266.45 465.37h3.40M268.47 330.06h3.40M268.47 444.53h3.40M270.50 440.75h3.40M270.50 465.60h3.40M272.52 446.51h3.40M272.52 466.04h3.40M274.54 448.62h3.40M274.54 467.65h3.40M276.57 447.59h3.40M276.57 464.63h3.40M278.59 446.91h3.40M278.59 464.94h3.40M280.61 444.98h3.40M280.61 468.22h3.40M282.64 444.23h3.40M282.64 464.67h3.40M284.66 442.78h3.40M284.66 465.33h3.40M286.68 446.72h3.40M286.68 468.29h3.40M288.71 444.22h3.40M288.71 464.14h3.40M290.73 440.78h3.40M290.73 463.16h3.40M292.75 442.43h3.40M292.75 465.68h3.40M294.78 440.27h3.40M294.78 463.46h3.40M296.80 441.26h3.40M296.80 462.67h3.40" stroke="#9a9a9a" stroke-width="1.0" fill="none"/>
<polyline points="55.70,454.00 57.72,454.86 59.75,455.87 61.77,456.71 63.79,457.52 65.82,457.67 67.84,456.86 69.86,456.05 71.89,455.25 73.91,454.44 75.93,453.81 77.96,453.41 79.98,453.00 82.00,453.80 84.03,454.61 86.05,455.21 88.07,455.61 90.10,456.02 92.12,456.42 94.14,456.83 96.17,456.53 98.19,455.72 100.21,454.96 102.24,454.55 104.26,454.15 106.28,454.26 108.31,454.66 110.33,454.97 112.35,454.76 114.38,454.56 116.40,455.06 118.42,458.40 120.45,460.44 122.47,457.91 124.49,455.38 126.52,454.49 128.54,455.56 130.56,456.64 132.59,456.74 134.61,454.46 136.63,452.18 138.66,450.48 140.68,451.50 142.70,452.53 144.73,453.55 146.75,454.57 148.77,453.40 150.80,452.18 152.82,450.95 154.84,449.99 156.87,449.31 158.89,448.64 160.91,447.96 162.94,447.33 164.96,446.80 166.98,446.27 169.01,446.18 171.03,446.54 173.05,446.90 175.08,447.26 177.10,447.43 179.12,447.23 181.15,447.03 183.17,446.83 185.19,446.61 187.22,446.38 189.24,446.14 191.26,445.64 193.29,444.68 195.31,443.72 197.33,443.79 199.36,444.67 201.38,445.54 203.40,444.10 205.43,441.09 207.45,438.07 209.47,438.00 211.50,440.08 213.52,438.86 215.54,435.48 217.57,432.09 219.59,429.36 221.61,427.09 223.64,424.82 225.66,422.54 227.68,421.41 229.71,421.07 231.73,420.74 233.75,419.90 235.78,418.67 237.80,417.58 239.82,419.28 241.85,420.97 243.87,422.85 245.89,430.03 247.92,437.27 249.94,444.98 251.96,446.15 253.99,447.32 256.01,448.49 258.03,450.13 260.06,452.16 262.08,454.18 264.10,456.20 266.13,455.30 268.15,452.08 270.17,388.85 272.20,451.89 274.22,454.87 276.24,457.74 278.27,458.69 280.29,457.92 282.31,457.14 284.34,456.37 286.36,455.48 288.38,454.48 290.41,453.49 292.43,452.50 294.45,451.51 296.48,451.65 298.50,453.00" fill="none" stroke="#6c6c6c" stroke-width="1.8" stroke-linejoin="round" stroke-linecap="round" />
<path d="M53.70 452.00h4.0v4.0h-4.0zM55.72 452.86h4.0v4.0h-4.0zM57.75 453.87h4.0v4.0h-4.0zM59.77 454.71h4.0v4.0h-4.0zM61.79 455.52h4.0v4.0h-4.0zM63.82 455.67h4.0v4.0h-4.0zM65.84 454.86h4.0v4.0h-4.0zM67.86 454.05h4.0v4.0h-4.0zM69.89 453.25h4.0v4.0h-4.0zM71.91 452.44h4.0v4.0h-4.0zM73.93 451.81h4.0v4.0h-4.0zM75.96 451.41h4.0v4.0h-4.0zM77.98 451.00h4.0v4.0h-4.0zM80.00 451.80h4.0v4.0h-4.0zM82.03 452.61h4.0v4.0h-4.0zM84.05 453.21h4.0v4.0h-4.0zM86.07 453.61h4.0v4.0h-4.0zM88.10 454.02h4.0v4.0h-4.0zM90.12 454.42h4.0v4.0h-4.0zM92.14 454.83h4.0v4.0h-4.0zM94.17 454.53h4.0v4.0h-4.0zM96.19 453.72h4.0v4.0h-4.0zM98.21 452.96h4.0v4.0h-4.0zM100.24 452.55h4.0v4.0h-4.0zM102.26 452.15h4.0v4.0h-4.0zM104.28 452.26h4.0v4.0h-4.0zM106.31 452.66h4.0v4.0h-4.0zM108.33 452.97h4.0v4.0h-4.0zM110.35 452.76h4.0v4.0h-4.0zM112.38 452.56h4.0v4.0h-4.0zM114.40 453.06h4.0v4.0h-4.0zM116.42 456.40h4.0v4.0h-4.0zM118.45 458.44h4.0v4.0h-4.0zM120.47 455.91h4.0v4.0h-4.0zM122.49 453.38h4.0v4.0h-4.0zM124.52 452.49h4.0v4.0h-4.0zM126.54 453.56h4.0v4.0h-4.0zM128.56 454.64h4.0v4.0h-4.0zM130.59 454.74h4.0v4.0h-4.0zM132.61 452.46h4.0v4.0h-4.0zM134.63 450.18h4.0v4.0h-4.0zM136.66 448.48h4.0v4.0h-4.0zM138.68 449.50h4.0v4.0h-4.0zM140.70 450.53h4.0v4.0h-4.0zM142.73 451.55h4.0v4.0h-4.0zM144.75 452.57h4.0v4.0h-4.0zM146.77 451.40h4.0v4.0h-4.0zM148.80 450.18h4.0v4.0h-4.0zM150.82 448.95h4.0v4.0h-4.0zM152.84 447.99h4.0v4.0h-4.0zM154.87 447.31h4.0v4.0h-4.0zM156.89 446.64h4.0v4.0h-4.0zM158.91 445.96h4.0v4.0h-4.0zM160.94 445.33h4.0v4.0h-4.0zM162.96 444.80h4.0v4.0h-4.0zM164.98 444.27h4.0v4.0h-4.0zM167.01 444.18h4.0v4.0h-4.0zM169.03 444.54h4.0v4.0h-4.0zM171.05 444.90h4.0v4.0h-4.0zM173.08 445.26h4.0v4.0h-4.0zM175.10 445.43h4.0v4.0h-4.0zM177.12 445.23h4.0v4.0h-4.0zM179.15 445.03h4.0v4.0h-4.0zM181.17 444.83h4.0v4.0h-4.0zM183.19 444.61h4.0v4.0h-4.0zM185.22 444.38h4.0v4.0h-4.0zM187.24 444.14h4.0v4.0h-4.0zM189.26 443.64h4.0v4.0h-4.0zM191.29 442.68h4.0v4.0h-4.0zM193.31 441.72h4.0v4.0h-4.0zM195.33 441.79h4.0v4.0h-4.0zM197.36 442.67h4.0v4.0h-4.0zM199.38 443.54h4.0v4.0h-4.0zM201.40 442.10h4.0v4.0h-4.0zM203.43 439.09h4.0v4.0h-4.0zM205.45 436.07h4.0v4.0h-4.0zM207.47 436.00h4.0v4.0h-4.0zM209.50 438.08h4.0v4.0h-4.0zM211.52 436.86h4.0v4.0h-4.0zM213.54 433.48h4.0v4.0h-4.0zM215.57 430.09h4.0v4.0h-4.0zM217.59 427.36h4.0v4.0h-4.0zM219.61 425.09h4.0v4.0h-4.0zM221.64 422.82h4.0v4.0h-4.0zM223.66 420.54h4.0v4.0h-4.0zM225.68 419.41h4.0v4.0h-4.0zM227.71 419.07h4.0v4.0h-4.0zM229.73 418.74h4.0v4.0h-4.0zM231.75 417.90h4.0v4.0h-4.0zM233.78 416.67h4.0v4.0h-4.0zM235.80 415.58h4.0v4.0h-4.0zM237.82 417.28h4.0v4.0h-4.0zM239.85 418.97h4.0v4.0h-4.0zM241.87 420.85h4.0v4.0h-4.0zM243.89 428.03h4.0v4.0h-4.0zM245.92 435.27h4.0v4.0h-4.0zM247.94 442.98h4.0v4.0h-4.0zM249.96 444.15h4.0v4.0h-4.0zM251.99 445.32h4.0v4.0h-4.0zM254.01 446.49h4.0v4.0h-4.0zM256.03 448.13h4.0v4.0h-4.0zM258.06 450.16h4.0v4.0h-4.0zM260.08 452.18h4.0v4.0h-4.0zM262.10 454.20h4.0v4.0h-4.0zM264.13 453.30h4.0v4.0h-4.0zM266.15 450.08h4.0v4.0h-4.0zM268.17 386.85h4.0v4.0h-4.0zM270.20 449.89h4.0v4.0h-4.0zM272.22 452.87h4.0v4.0h-4.0zM274.24 455.74h4.0v4.0h-4.0zM276.27 456.69h4.0v4.0h-4.0zM278.29 455.92h4.0v4.0h-4.0zM280.31 455.14h4.0v4.0h-4.0zM282.34 454.37h4.0v4.0h-4.0zM284.36 453.48h4.0v4.0h-4.0zM286.38 452.48h4.0v4.0h-4.0zM288.41 451.49h4.0v4.0h-4.0zM290.43 450.50h4.0v4.0h-4.0zM292.45 449.51h4.0v4.0h-4.0zM294.48 449.65h4.0v4.0h-4.0zM296.50 451.00h4.0v4.0h-4.0z" fill="#6c6c6c" fill-opacity="0.85"/>
<text x="332.50" y="296.00" font-size="17" text-anchor="start" font-weight="bold" fill="#000" >d</text>
<line x1="392.90" y1="297.30" x2="392.90" y2="512.50" stroke="#7a7a7a" stroke-width="1.7" />
<line x1="389.90" y1="297.30" x2="392.70" y2="297.30" stroke="#555" stroke-width="1.3" />
<line x1="389.90" y1="324.10" x2="392.70" y2="324.10" stroke="#555" stroke-width="1.3" />
<line x1="389.90" y1="350.90" x2="392.70" y2="350.90" stroke="#555" stroke-width="1.3" />
<line x1="389.90" y1="377.70" x2="392.70" y2="377.70" stroke="#555" stroke-width="1.3" />
<line x1="389.90" y1="404.50" x2="392.70" y2="404.50" stroke="#555" stroke-width="1.3" />
<line x1="389.90" y1="431.30" x2="392.70" y2="431.30" stroke="#555" stroke-width="1.3" />
<line x1="389.90" y1="458.10" x2="392.70" y2="458.10" stroke="#555" stroke-width="1.3" />
<line x1="389.90" y1="484.90" x2="392.70" y2="484.90" stroke="#555" stroke-width="1.3" />
<line x1="389.90" y1="511.70" x2="392.70" y2="511.70" stroke="#555" stroke-width="1.3" />
<text x="388.30" y="302.70" font-size="14.3" text-anchor="end" font-weight="normal" fill="#000" >30</text>
<text x="388.30" y="463.20" font-size="14.3" text-anchor="end" font-weight="normal" fill="#000" >0</text>
<text x="388.30" y="516.90" font-size="14.3" text-anchor="end" font-weight="normal" fill="#000" >-10</text>
<line x1="392.70" y1="458.10" x2="476.60" y2="458.10" stroke="#7a7a7a" stroke-width="1.6" />
<line x1="482.00" y1="458.10" x2="565.40" y2="458.10" stroke="#7a7a7a" stroke-width="1.6" />
<line x1="392.70" y1="511.70" x2="476.60" y2="511.70" stroke="#7a7a7a" stroke-width="1.6" />
<line x1="482.00" y1="511.70" x2="565.40" y2="511.70" stroke="#7a7a7a" stroke-width="1.6" />
<line x1="414.25" y1="511.70" x2="414.25" y2="514.30" stroke="#555" stroke-width="1.3" />
<line x1="435.00" y1="511.70" x2="435.00" y2="514.30" stroke="#555" stroke-width="1.3" />
<line x1="455.90" y1="511.70" x2="455.90" y2="514.30" stroke="#555" stroke-width="1.3" />
<line x1="502.45" y1="511.70" x2="502.45" y2="514.30" stroke="#555" stroke-width="1.3" />
<line x1="523.65" y1="511.70" x2="523.65" y2="514.30" stroke="#555" stroke-width="1.3" />
<line x1="544.35" y1="511.70" x2="544.35" y2="514.30" stroke="#555" stroke-width="1.3" />
<rect x="405.60" y="404.40" width="17.3" height="53.70" fill="#000"/>
<line x1="414.25" y1="395.60" x2="414.25" y2="404.90" stroke="#505050" stroke-width="1.3" />
<rect x="426.35" y="360.30" width="17.3" height="97.80" fill="#000"/>
<line x1="435.00" y1="338.00" x2="435.00" y2="360.80" stroke="#505050" stroke-width="1.3" />
<rect x="447.25" y="385.70" width="17.3" height="72.40" fill="#000"/>
<line x1="455.90" y1="361.40" x2="455.90" y2="386.20" stroke="#505050" stroke-width="1.3" />
<rect x="494.35" y="456.40" width="16.2" height="1.70" fill="#8a8a8a" stroke="#2a2a2a" stroke-width="1.1"/>
<line x1="502.45" y1="450.80" x2="502.45" y2="462.80" stroke="#222" stroke-width="1.3" />
<rect x="515.55" y="440.90" width="16.2" height="17.20" fill="#8a8a8a" stroke="#2a2a2a" stroke-width="1.1"/>
<line x1="523.65" y1="430.30" x2="523.65" y2="451.70" stroke="#222" stroke-width="1.3" />
<rect x="536.25" y="447.30" width="16.2" height="10.80" fill="#8a8a8a" stroke="#2a2a2a" stroke-width="1.1"/>
<line x1="544.35" y1="435.80" x2="544.35" y2="458.60" stroke="#222" stroke-width="1.3" />
<text x="435.60" y="333.40" font-size="22" text-anchor="middle" font-weight="normal" fill="#000" letter-spacing="1.5">**</text>
<text x="456.10" y="358.90" font-size="22" text-anchor="middle" font-weight="normal" fill="#000" >*</text>
<text x="524.00" y="403.20" font-size="14.3" text-anchor="middle" font-weight="normal" fill="#000" >n.s.</text>
<text transform="translate(422.00,524.10) rotate(-45)" font-size="13.6" text-anchor="end">0-15</text>
<text transform="translate(447.40,522.80) rotate(-45)" font-size="13.6" text-anchor="end">15-30</text>
<text transform="translate(468.70,523.50) rotate(-45)" font-size="13.6" text-anchor="end">30-45</text>
<text transform="translate(504.25,523.30) rotate(-45)" font-size="13.6" text-anchor="end">0-15</text>
<text transform="translate(530.15,522.40) rotate(-45)" font-size="13.6" text-anchor="end">15-30</text>
<text transform="translate(550.90,522.80) rotate(-45)" font-size="13.6" text-anchor="end">30-45</text>
<text x="484.40" y="567.20" font-size="14.3" text-anchor="middle" font-weight="normal" fill="#000" >Time from Stimulation (s)</text>
<text transform="translate(348.7,405.6) rotate(-90)" font-size="14.3" text-anchor="middle">Δ Heart rate</text>
<text transform="translate(362.6,407.0) rotate(-90)" font-size="14.3" text-anchor="middle">(bpm)</text>
</svg></body></html>
